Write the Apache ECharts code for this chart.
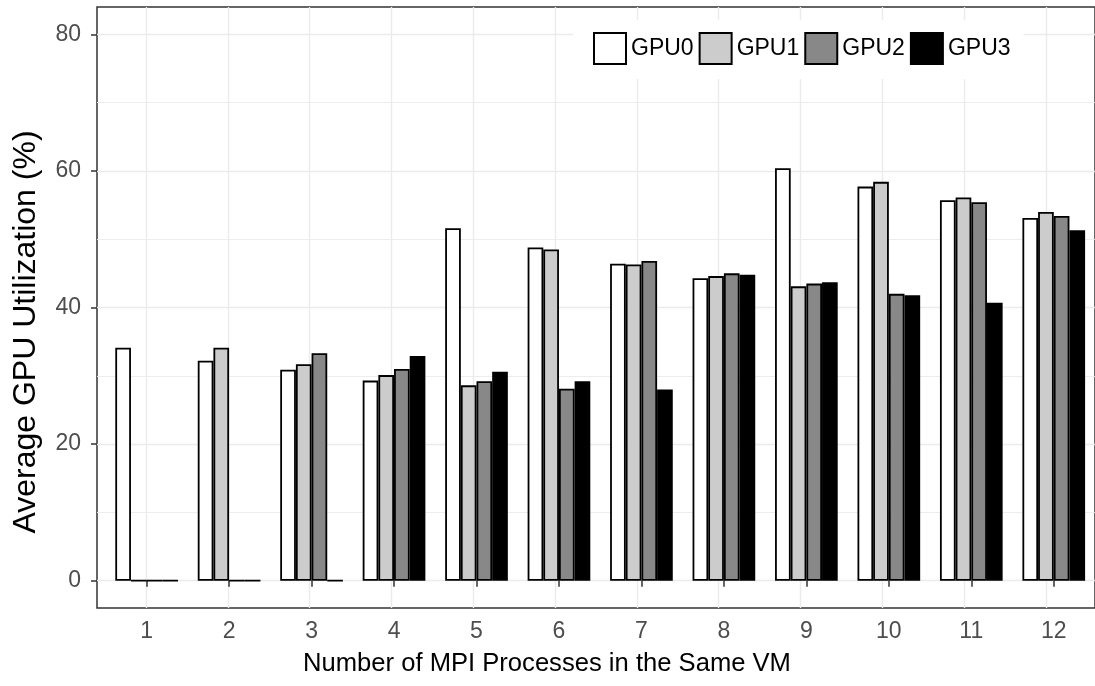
<!DOCTYPE html>
<html lang="en">
<head>
<meta charset="UTF-8">
<style>
  html, body { height: 100%; margin: 0; background: #fff; }
</style>
</head>
<body>
<div id="chart" style="width:1095px;height:686px;"></div>
<script src="https://cdn.jsdelivr.net/npm/echarts@6/dist/echarts.min.js"></script>
<script>
// data
var procs = ['1', '2', '3', '4', '5', '6', '7', '8', '9', '10', '11', '12'];
var procPos = [1, 2, 3, 4, 5, 6, 7, 8, 9, 10, 11, 12];
var gpuNames = ['GPU0', 'GPU1', 'GPU2', 'GPU3'];
var gpuColors = ['#ffffff', '#cccccc', '#888888', '#000000'];
var gpu0 = [34.1, 32.2, 30.9, 29.3, 51.6, 48.8, 46.4, 44.3, 60.4, 57.7, 55.7, 53.1];
var gpu1 = [0, 34.1, 31.7, 30.1, 28.6, 48.5, 46.3, 44.6, 43.1, 58.4, 56.1, 54.0];
var gpu2 = [0, 0, 33.3, 31.0, 29.2, 28.1, 46.8, 45.0, 43.5, 42.0, 55.4, 53.4];
var gpu3 = [0, 0, 0, 32.9, 30.6, 29.2, 28.0, 44.8, 43.7, 41.8, 40.7, 51.3];
var yMajor = [0, 20, 40, 60, 80];
var yMinor = [10, 30, 50, 70];

var font = 'Liberation Sans, Arial, Helvetica, sans-serif';
var myChart = echarts.init(document.getElementById('chart'));

var series = [gpu0, gpu1, gpu2, gpu3].map(function (vals, i) {
    return {
        name: gpuNames[i],
        type: 'bar',
        xAxisIndex: 1,
        yAxisIndex: 2,
        data: vals,
        barGap: '0%',
        barCategoryGap: '24%',
        itemStyle: { color: gpuColors[i], borderColor: '#000', borderWidth: 1.8 },
        emphasis: { disabled: true }
    };
});

myChart.setOption({
    animation: false,
    textStyle: { fontFamily: font },
    // panel (ggplot expands discrete axis by 0.6), bars grid (band per category)
    grid: [
        { left: 97, top: 7, width: 1007, height: 601, show: true,
          borderColor: '#333', borderWidth: 1.5, backgroundColor: '#fff' },
        { left: 105.4, top: 7, width: 990.6, height: 601 }
    ],
    legend: {
        left: 573, top: 20,
        padding: [12, 13, 14, 20],
        backgroundColor: '#fff',
        itemWidth: 32, itemHeight: 31, itemGap: 5,
        icon: 'rect',
        data: gpuNames,
        textStyle: { fontSize: 23, color: '#000', fontFamily: font }
    },
    xAxis: [
        {
            gridIndex: 0, type: 'value', min: 0.4, max: 12.6,
            axisLine: { show: false },
            axisTick: { show: false, customValues: procPos },
            axisLabel: { show: false },
            splitLine: { show: true, lineStyle: { color: '#ebebeb', width: 1.4 } }
        },
        {
            gridIndex: 1, type: 'category', data: procs, boundaryGap: true,
            axisLine: { show: false },
            axisTick: { show: true, alignWithLabel: true, length: 6,
                        lineStyle: { color: '#333', width: 1.5 } },
            axisLabel: { fontSize: 23, color: '#4d4d4d', margin: 12, fontFamily: font },
            splitLine: { show: false }
        }
    ],
    yAxis: [
        {
            gridIndex: 0, type: 'value', min: -4, max: 84,
            axisLine: { show: false },
            axisTick: { show: true, length: 6, customValues: yMajor,
                        lineStyle: { color: '#333', width: 1.5 } },
            axisLabel: { fontSize: 23, color: '#4d4d4d', margin: 16,
                         customValues: yMajor, fontFamily: font },
            splitLine: { show: true, lineStyle: { color: '#ebebeb', width: 1.4 } }
        },
        {
            gridIndex: 0, type: 'value', min: -4, max: 84,
            axisLine: { show: false },
            axisTick: { show: false, customValues: yMinor },
            axisLabel: { show: false },
            splitLine: { show: true, lineStyle: { color: '#ebebeb', width: 0.9 } }
        },
        {
            gridIndex: 1, type: 'value', min: -4, max: 84, show: false,
            splitLine: { show: false }
        }
    ],
    graphic: [
        { type: 'text', x: 547, y: 664, style: {
            text: 'Number of MPI Processes in the Same VM',
            fill: '#000', font: '25.6px ' + font, textAlign: 'center', textVerticalAlign: 'middle' } },
        { type: 'text', x: 26, y: 332, rotation: Math.PI / 2, style: {
            text: 'Average GPU Utilization (%)',
            fill: '#000', font: '32px ' + font, textAlign: 'center', textVerticalAlign: 'middle' } }
    ],
    series: series
});
</script>
</body>
</html>
